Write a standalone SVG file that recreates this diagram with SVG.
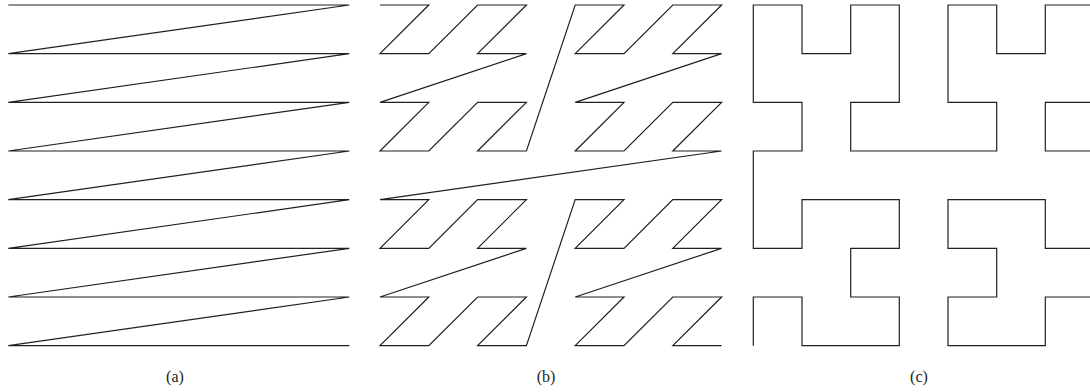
<svg xmlns="http://www.w3.org/2000/svg" width="1090" height="392" viewBox="0 0 1090 392">
<style>
.curve{fill:none;stroke:#231f20;stroke-width:1.2;stroke-linejoin:miter;stroke-linecap:butt}
.lbl{font-family:"Liberation Serif","DejaVu Serif",serif;font-size:16px;fill:#231f20;text-anchor:middle}
</style>
<rect width="1090" height="392" fill="#ffffff"/>
<g id="panel-a">
<path class="curve" d="M8.3,5 H349.3 L8.3,53.67 H349.3 L8.3,102.33 H349.3 L8.3,151 H349.3 L8.3,199.67 H349.3 L8.3,248.33 H349.3 L8.3,297 H349.3 L8.3,345.67 H349.3"/>
<text class="lbl" x="175" y="382">(a)</text>
</g>
<g id="panel-b">
<path class="curve" d="M380,5 L428.8,5 L380,53.67 L428.8,53.67 L477.6,5 L526.4,5 L477.6,53.67 L526.4,53.67 L380,102.33 L428.8,102.33 L380,151 L428.8,151 L477.6,102.33 L526.4,102.33 L477.6,151 L526.4,151 L575.2,5 L624,5 L575.2,53.67 L624,53.67 L672.8,5 L721.6,5 L672.8,53.67 L721.6,53.67 L575.2,102.33 L624,102.33 L575.2,151 L624,151 L672.8,102.33 L721.6,102.33 L672.8,151 L721.6,151 L380,199.67 L428.8,199.67 L380,248.33 L428.8,248.33 L477.6,199.67 L526.4,199.67 L477.6,248.33 L526.4,248.33 L380,297 L428.8,297 L380,345.67 L428.8,345.67 L477.6,297 L526.4,297 L477.6,345.67 L526.4,345.67 L575.2,199.67 L624,199.67 L575.2,248.33 L624,248.33 L672.8,199.67 L721.6,199.67 L672.8,248.33 L721.6,248.33 L575.2,297 L624,297 L575.2,345.67 L624,345.67 L672.8,297 L721.6,297 L672.8,345.67 L721.6,345.67"/>
<text class="lbl" x="546" y="382">(b)</text>
</g>
<g id="panel-c">
<path class="curve" d="M753.3,345.67 L753.3,297 L802,297 L802,345.67 L899.3,345.67 L899.3,297 L850.7,297 L850.7,248.33 L899.3,248.33 L899.3,199.67 L802,199.67 L802,248.33 L753.3,248.33 L753.3,151 L802,151 L802,102.33 L753.3,102.33 L753.3,5 L802,5 L802,53.67 L850.7,53.67 L850.7,5 L899.3,5 L899.3,102.33 L850.7,102.33 L850.7,151 L996.7,151 L996.7,102.33 L948,102.33 L948,5 L996.7,5 L996.7,53.67 L1045.3,53.67 L1045.3,5 L1094,5 L1094,102.33 L1045.3,102.33 L1045.3,151 L1094,151 L1094,248.33 L1045.3,248.33 L1045.3,199.67 L948,199.67 L948,248.33 L996.7,248.33 L996.7,297 L948,297 L948,345.67 L1045.3,345.67 L1045.3,297 L1094,297 L1094,345.67"/>
<text class="lbl" x="919" y="382">(c)</text>
</g>
</svg>
